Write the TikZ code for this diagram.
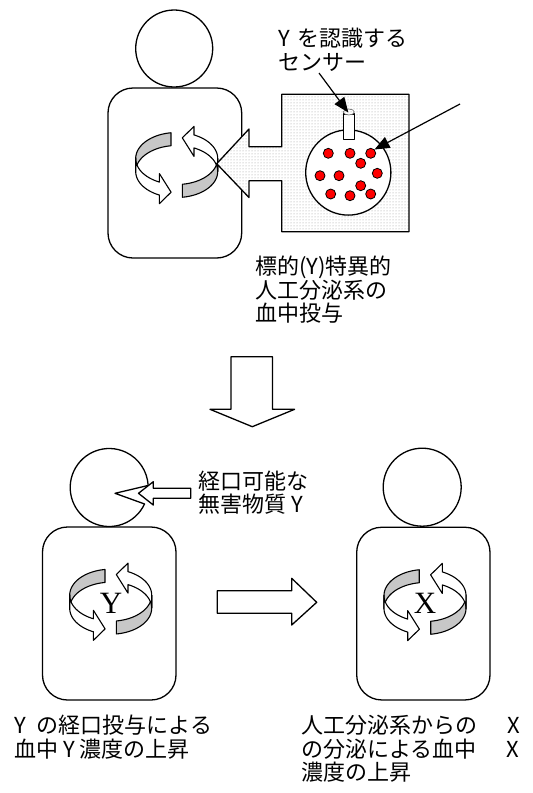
\documentclass[tikz,border=0pt]{standalone}
\usepackage{fontspec}
\setmainfont{Noto Sans CJK JP}
\newfontfamily\serifletter{Liberation Serif}
\usetikzlibrary{patterns,arrows.meta}

\tikzset{
  outline/.style={draw=black, line width=1.3pt, line join=round},
  dotfill/.style={preaction={fill=white}, pattern=dots, pattern color=black!40},
  jplabel/.style={anchor=north west, align=left, inner sep=0pt,
    font=\fontsize{22}{23.5}\selectfont},
  pointer/.style={line width=1.2pt, -{Triangle[length=15pt,width=12pt]}},
  reddot/.style={circle, fill=red, draw=black, line width=0.8pt,
    minimum size=10pt, inner sep=0pt},
  head/.style={circle, outline, minimum size=77pt, inner sep=0pt},
  torso/.style={rectangle, outline, rounded corners=25pt, inner sep=0pt},
  bigletter/.style={font=\serifletter\fontsize{31}{31}\selectfont, inner sep=0pt},
  % two twisted ribbon arrows chasing each other round an ellipse
  pics/cycle/.style={code={
    \begin{scope}[yscale=-1]
      \foreach \r in {0,180}{
        \begin{scope}[rotate=\r]
          \filldraw[fill=black!22, outline, line width=1.1pt]
            plot[domain=98:180,samples=25] ({41*cos(\x)},{26*sin(\x)+6.5})
            -- plot[domain=180:98,samples=25] ({41*cos(\x)},{26*sin(\x)-6.5})
            -- cycle;
          \filldraw[fill=white, outline, line width=1.1pt]
            plot[domain=180:245,samples=25] ({41*cos(\x)},{26*sin(\x)+6.5})
            -- (-17.3,-8.6) -- (-5.6,-27.2) -- (-17.3,-38.6) -- (-17.3,-30.1)
            -- plot[domain=245:180,samples=25] ({41*cos(\x)},{26*sin(\x)-6.5})
            -- cycle;
        \end{scope}
      }
    \end{scope}
  }}
}

\begin{document}
\begin{tikzpicture}[x=1pt,y=-1pt]
\useasboundingbox (0,0) rectangle (533,793);

% ---------- upper figure: implanted secretion system ----------
\node[torso, minimum width=133.7pt, minimum height=170pt] (bodyA) at (174.85,173) {};
\node[head] (headA) at (174.2,48.5) {};
\pic at (176.7,165) {cycle};

% dotted implant with its arrow into the body
\path[dotfill] (281.7,94.3) -- (409,94.3) -- (409,231.7) -- (281.7,231.7)
  -- (281.7,180.7) -- (249,180.7) -- (249,197.5) -- (216.7,163.7)
  -- (249,129) -- (249,146.7) -- (281.7,146.7) -- cycle;
\draw[outline] (281.7,94.3) -- (409,94.3) -- (409,231.7) -- (281.7,231.7)
  -- (281.7,180.7) -- (249,180.7) -- (249,197.5) -- (216.7,163.7)
  -- (249,129) -- (249,146.7) -- (281.7,146.7) -- cycle;

\node[circle, outline, fill=white, minimum size=85.2pt, inner sep=0pt] (vessel) at (348.3,172.5) {};
\draw[outline, fill=white] (343.3,139.3) rectangle (354.3,114);
\draw[line width=0.6pt, draw=black!60, dotfill] (348.8,112) ellipse [x radius=5.5, y radius=3];
\coordinate (sensortip) at (348.3,112.5);

\foreach \n/\p in {d1/{(328.3,153.3)}, d2/{(350,153.3)}, d3/{(370.7,153.3)},
                   d4/{(360.7,163.3)}, d5/{(320,175.7)}, d6/{(339,175.7)},
                   d7/{(377.3,173.3)}, d8/{(360.7,185.7)}, d9/{(330.7,194)},
                   d10/{(350,195.7)}, d11/{(370.7,194)}}
  \node[reddot] (\n) at \p {};

\node[jplabel, font=\fontsize{22}{24.5}\selectfont] (sensorlabel) at (278,27.5)
  {Y\hspace{3pt} を認識する\\センサー};
\coordinate (sensorfoot) at (319,73);
\draw[pointer] (sensorfoot) -- (sensortip);
\coordinate (dotsfoot) at (460,104);
\draw[pointer] (dotsfoot) -- (d3.north east);

\node[jplabel] (implantlabel) at (255,256) {標的(Y)特異的\\人工分泌系の\\血中投与};

% ---------- transition ----------
\draw[outline, fill=white] (231,356.7) -- (272.5,356.7) -- (272.5,409.3)
  -- (294.6,409.3) -- (252.3,426.7) -- (210,409.3) -- (231,409.3) -- cycle;

% ---------- lower left: oral intake of Y ----------
\node[torso, minimum width=133.5pt, minimum height=173pt] (bodyB) at (109.25,613.5) {};
\coordinate (headB) at (109.2,487.5);
\draw[outline, fill=white] ([shift={(-3:39)}]headB) -- (115,493.3)
  -- ([shift={(25:39)}]headB) arc[start angle=25, end angle=357, radius=39] -- cycle;
\draw[outline, fill=white] (138.5,493.3) -- (153.3,481.7) -- (153.3,488.3)
  -- (190.7,488.3) -- (190.7,498.3) -- (153.3,498.3) -- (153.3,505) -- cycle;
\node[jplabel] (orallabel) at (198,470.7) {経口可能な\\無害物質 Y};
\pic at (110.7,601.7) {cycle};
\node[bigletter] (letterY) at (111,603) {Y};

% ---------- lower right: secretion of X ----------
\draw[outline, fill=white] (217.3,590.7) -- (291.7,590.7) -- (291.7,578.3)
  -- (316.7,602.3) -- (291.7,625) -- (291.7,613.3) -- (217.3,613.3) -- cycle;

\node[torso, minimum width=133.3pt, minimum height=172.7pt] (bodyC) at (423.35,613.6) {};
\node[head, minimum size=78pt] (headC) at (422.2,487.2) {};
\pic at (425,602) {cycle};
\node[bigletter] (letterX) at (425,603) {X};

\node[jplabel] (leftcaption) at (14,715) {Y\hspace{6pt} の経口投与による\\血中 Y 濃度の上昇};
\node[jplabel] (rightcaption) at (301,715)
  {人工分泌系からの\hspace{30pt}X\\の分泌による血中\hspace{30pt}X\\濃度の上昇};
\end{tikzpicture}
\end{document}
